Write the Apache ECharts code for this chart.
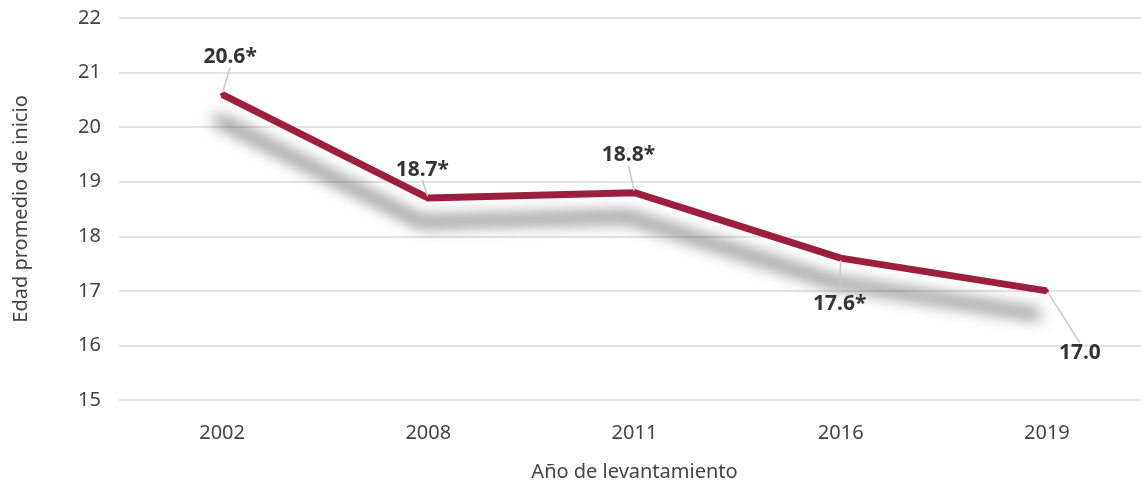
<!DOCTYPE html>
<html>
<head>
<meta charset="utf-8">
<script src="https://cdn.jsdelivr.net/npm/echarts@6/dist/echarts.min.js"></script>
<style>
  html, body { margin: 0; padding: 0; background: #fff; }
  #chart { width: 1141px; height: 482px; }
</style>
</head>
<body>
<div id="chart"></div>
<script>
// datos
var years = ['2002', '2008', '2011', '2016', '2019'];
var edad = [20.6, 18.7, 18.8, 17.6, 17.0];
var marcas = ['*', '*', '*', '*', ''];  // diferencia significativa
var yTicks = [15, 16, 17, 18, 19, 20, 21, 22];

// desplazamiento de cada etiqueta (dx, dy) respecto al punto
var labelOffsets = [[8, -25], [-6, -16], [-6, -25], [-1, 58], [33, 75]];

var myChart = echarts.init(document.getElementById('chart'));
myChart.setOption({
    animation: false,
    textStyle: { fontFamily: 'Noto Sans' },
    grid: { left: 119, right: -9, top: 18, bottom: 82, outerBoundsMode: 'none', containLabel: false },
    xAxis: {
        type: 'category',
        data: years,
        boundaryGap: true,
        name: 'Año de levantamiento',
        nameLocation: 'middle',
        nameGap: 62,
        nameTextStyle: { fontSize: 20, color: '#444' },
        axisLine: { show: false },
        axisTick: { show: false },
        axisLabel: { fontSize: 20, color: '#444', margin: 23 }
    },
    yAxis: {
        type: 'value',
        min: yTicks[0],
        max: yTicks[yTicks.length - 1],
        interval: 1,
        name: 'Edad promedio de inicio',
        nameLocation: 'middle',
        nameGap: 88,
        nameTextStyle: { fontSize: 20, color: '#444' },
        axisLine: { show: false },
        axisTick: { show: false },
        axisLabel: { fontSize: 20, color: '#444', margin: 18 },
        splitLine: { lineStyle: { color: '#e4e4e4', width: 2 } }
    },
    series: [{
        type: 'line',
        data: edad,
        symbol: 'circle',
        symbolSize: 4,
        showSymbol: true,
        itemStyle: { color: '#9c1e41' },
        lineStyle: {
            color: '#9c1e41',
            width: 7,
            shadowColor: 'rgba(0,0,0,0.75)',
            shadowBlur: 16,
            shadowOffsetX: -7,
            shadowOffsetY: 24
        },
        label: {
            show: true,
            position: 'top',
            distance: 0,
            fontSize: 21,
            fontWeight: 'bold',
            color: '#333',
            formatter: function (p) {
                return p.value.toFixed(1) + marcas[p.dataIndex];
            }
        },
        labelLine: {
            show: true,
            lineStyle: { color: '#c8c8c8', width: 1.5 }
        },
        labelLayout: function (p) {
            var o = labelOffsets[p.dataIndex];
            return { dx: o[0], dy: o[1] };
        }
    }]
});
</script>
</body>
</html>
